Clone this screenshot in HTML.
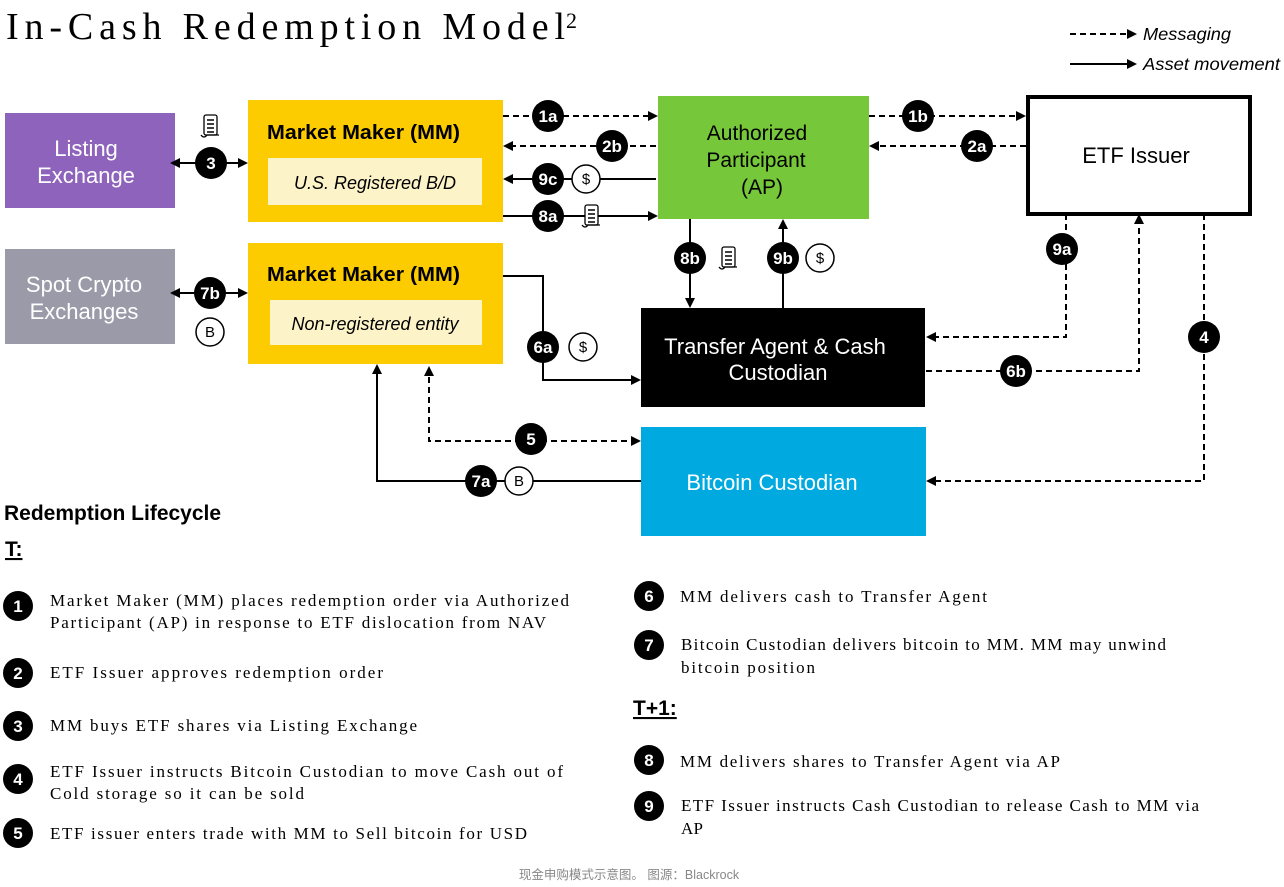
<!DOCTYPE html>
<html><head><meta charset="utf-8"><style>
html,body{margin:0;padding:0;background:#fff;}
svg{display:block;}
.b{font-family:"Liberation Sans",Arial,sans-serif;}
.s{font-family:"Liberation Serif","Times New Roman",serif;}
</style></head><body>
<svg width="1284" height="887" viewBox="0 0 1284 887" xmlns="http://www.w3.org/2000/svg">
<defs>
<marker id="a" markerWidth="10" markerHeight="10" refX="8" refY="5" orient="auto" markerUnits="userSpaceOnUse"><path d="M0,0 L10,5 L0,10 z" fill="#000"/></marker>
<marker id="as" markerWidth="10" markerHeight="10" refX="2" refY="5" orient="auto-start-reverse" markerUnits="userSpaceOnUse"><path d="M0,0 L10,5 L0,10 z" fill="#000"/></marker>
<g id="doc"><rect x="-7" y="-11" width="13" height="20" fill="#fff" stroke="#000" stroke-width="1.3" rx="2"/><line x1="-4" y1="-6" x2="3" y2="-6" stroke="#000" stroke-width="1.5"/><line x1="-4" y1="-2" x2="3" y2="-2" stroke="#000" stroke-width="1.5"/><line x1="-4" y1="2" x2="3" y2="2" stroke="#000" stroke-width="1.5"/><line x1="-4" y1="6" x2="3" y2="6" stroke="#000" stroke-width="1.5"/><path d="M-10,9 q3,4 6,0 h12" fill="none" stroke="#000" stroke-width="1.3"/></g>
</defs>
<text x="6" y="39" class="s" font-size="38" textLength="559" lengthAdjust="spacing">In-Cash Redemption Model</text>
<text x="566" y="28" class="s" font-size="22">2</text>
<!-- legend -->
<line x1="1070" y1="34" x2="1135" y2="34" stroke="#000" stroke-width="2" stroke-dasharray="6,4" marker-end="url(#a)"/>
<text x="1143" y="40" class="b" font-size="17.5" font-style="italic" textLength="88" lengthAdjust="spacingAndGlyphs">Messaging</text>
<line x1="1070" y1="64" x2="1135" y2="64" stroke="#000" stroke-width="2" marker-end="url(#a)"/>
<text x="1143" y="70" class="b" font-size="17.5" font-style="italic" textLength="137" lengthAdjust="spacingAndGlyphs">Asset movement</text>

<!-- boxes -->
<rect x="5" y="113" width="170" height="95" fill="#8e63bb"/>
<text class="b" font-size="22" fill="#fff" text-anchor="middle"><tspan x="86" y="156">Listing</tspan><tspan x="86" y="183">Exchange</tspan></text>
<rect x="248" y="100" width="255" height="122" fill="#fccc00"/>
<text x="267" y="139" class="b" font-size="20" font-weight="bold" textLength="193" lengthAdjust="spacingAndGlyphs">Market Maker (MM)</text>
<rect x="268" y="158" width="214" height="47" fill="#fdf3c8"/>
<text x="375" y="189" class="b" font-size="18" font-style="italic" text-anchor="middle">U.S. Registered B/D</text>
<rect x="658" y="96" width="211" height="123" fill="#76c73a"/>
<text class="b" font-size="21" text-anchor="middle"><tspan x="757" y="140">Authorized</tspan><tspan x="756" y="167">Participant</tspan><tspan x="762" y="194">(AP)</tspan></text>
<rect x="1028" y="97" width="222" height="117" fill="#fff" stroke="#000" stroke-width="4"/>
<text x="1136" y="163" class="b" font-size="22" text-anchor="middle">ETF Issuer</text>
<rect x="5" y="249" width="170" height="95" fill="#9b9aa9"/>
<text class="b" font-size="22" fill="#fff" text-anchor="middle"><tspan x="84" y="292">Spot Crypto</tspan><tspan x="84" y="319">Exchanges</tspan></text>
<rect x="248" y="243" width="255" height="121" fill="#fccc00"/>
<text x="267" y="281" class="b" font-size="20" font-weight="bold" textLength="193" lengthAdjust="spacingAndGlyphs">Market Maker (MM)</text>
<rect x="270" y="300" width="212" height="45" fill="#fdf3c8"/>
<text x="375" y="330" class="b" font-size="18" font-style="italic" text-anchor="middle">Non-registered entity</text>
<rect x="641" y="308" width="284" height="99" fill="#000"/>
<text class="b" font-size="22" fill="#fff" text-anchor="middle"><tspan x="775" y="354">Transfer Agent &amp; Cash</tspan><tspan x="778" y="380">Custodian</tspan></text>
<rect x="641" y="427" width="285" height="109" fill="#00a9df"/>
<text x="772" y="490" class="b" font-size="22" fill="#fff" text-anchor="middle">Bitcoin Custodian</text>

<!-- connectors -->
<g stroke="#000" stroke-width="2" fill="none">
<line x1="503" y1="116" x2="656" y2="116" stroke-dasharray="6,4" marker-end="url(#a)"/>
<line x1="656" y1="146" x2="505" y2="146" stroke-dasharray="6,4" marker-end="url(#a)"/>
<line x1="656" y1="179" x2="505" y2="179" marker-end="url(#a)"/>
<line x1="503" y1="216" x2="656" y2="216" marker-end="url(#a)"/>
<line x1="869" y1="116" x2="1024" y2="116" stroke-dasharray="6,4" marker-end="url(#a)"/>
<line x1="1026" y1="146" x2="871" y2="146" stroke-dasharray="6,4" marker-end="url(#a)"/>
<line x1="178" y1="163" x2="246" y2="163" marker-start="url(#as)" marker-end="url(#a)"/>
<line x1="178" y1="293" x2="246" y2="293" marker-start="url(#as)" marker-end="url(#a)"/>
<line x1="690" y1="219" x2="690" y2="306" marker-end="url(#a)"/>
<line x1="783" y1="308" x2="783" y2="221" marker-end="url(#a)"/>
<polyline points="503,276 543,276 543,380 639,380" marker-end="url(#a)"/>
<polyline points="1066,214 1066,337 928,337" stroke-dasharray="6,4" marker-end="url(#a)"/>
<polyline points="926,371 1139,371 1139,216" stroke-dasharray="6,4" marker-end="url(#a)"/>
<polyline points="1204,214 1204,481 928,481" stroke-dasharray="6,4" marker-end="url(#a)"/>
<polyline points="531,441 429,441 429,368" stroke-dasharray="6,4" marker-end="url(#a)"/>
<line x1="531" y1="441" x2="639" y2="441" stroke-dasharray="6,4" marker-end="url(#a)"/>
<polyline points="641,481 377,481 377,366" marker-end="url(#a)"/>
</g>
<!-- badges -->
<g class="b" font-weight="bold" font-size="17" fill="#fff" text-anchor="middle">
<g><circle cx="548" cy="116" r="16" fill="#000"/><text x="548" y="122">1a</text></g>
<g><circle cx="612" cy="146" r="16" fill="#000"/><text x="612" y="152">2b</text></g>
<g><circle cx="548" cy="179" r="16" fill="#000"/><text x="548" y="185">9c</text></g>
<g><circle cx="548" cy="216" r="16" fill="#000"/><text x="548" y="222">8a</text></g>
<g><circle cx="918" cy="116" r="16" fill="#000"/><text x="918" y="122">1b</text></g>
<g><circle cx="977" cy="146" r="16" fill="#000"/><text x="977" y="152">2a</text></g>
<g><circle cx="211" cy="163" r="16" fill="#000"/><text x="211" y="169">3</text></g>
<g><circle cx="210" cy="293" r="16" fill="#000"/><text x="210" y="299">7b</text></g>
<g><circle cx="690" cy="258" r="16" fill="#000"/><text x="690" y="264">8b</text></g>
<g><circle cx="783" cy="258" r="16" fill="#000"/><text x="783" y="264">9b</text></g>
<g><circle cx="543" cy="347" r="16" fill="#000"/><text x="543" y="353">6a</text></g>
<g><circle cx="1062" cy="249" r="16" fill="#000"/><text x="1062" y="255">9a</text></g>
<g><circle cx="1016" cy="371" r="16" fill="#000"/><text x="1016" y="377">6b</text></g>
<g><circle cx="1204" cy="337" r="16" fill="#000"/><text x="1204" y="343">4</text></g>
<g><circle cx="531" cy="439" r="16" fill="#000"/><text x="531" y="445">5</text></g>
<g><circle cx="481" cy="481" r="16" fill="#000"/><text x="481" y="487">7a</text></g>
</g>
<!-- icons -->
<g class="b" font-size="15" text-anchor="middle" fill="#000">
<g><circle cx="586" cy="179" r="14" fill="#fff" stroke="#000" stroke-width="1.5"/><text x="586" y="184">$</text></g>
<g><circle cx="820" cy="258" r="14" fill="#fff" stroke="#000" stroke-width="1.5"/><text x="820" y="263">$</text></g>
<g><circle cx="583" cy="347" r="14" fill="#fff" stroke="#000" stroke-width="1.5"/><text x="583" y="352">$</text></g>
<g><circle cx="210" cy="332" r="14" fill="#fff" stroke="#000" stroke-width="1.5"/><text x="210" y="337">B</text></g>
<g><circle cx="519" cy="481" r="14" fill="#fff" stroke="#000" stroke-width="1.5"/><text x="519" y="486">B</text></g>
</g>
<use href="#doc" x="211" y="126"/>
<use href="#doc" x="592" y="216"/>
<use href="#doc" x="729" y="258"/>

<!-- lifecycle -->
<text x="4" y="520" class="b" font-size="21" font-weight="bold">Redemption Lifecycle</text>
<text x="5" y="556" class="b" font-size="21" font-weight="bold" text-decoration="underline">T:</text>
<text x="633" y="715" class="b" font-size="21" font-weight="bold" text-decoration="underline">T+1:</text>
<g class="b" font-weight="bold" font-size="17" fill="#fff" text-anchor="middle">
<circle cx="18" cy="606" r="15" fill="#000"/><text x="18" y="612">1</text>
<circle cx="18" cy="673" r="15" fill="#000"/><text x="18" y="679">2</text>
<circle cx="18" cy="726" r="15" fill="#000"/><text x="18" y="732">3</text>
<circle cx="18" cy="779" r="15" fill="#000"/><text x="18" y="785">4</text>
<circle cx="18" cy="833" r="15" fill="#000"/><text x="18" y="839">5</text>
<circle cx="649" cy="596" r="15" fill="#000"/><text x="649" y="602">6</text>
<circle cx="649" cy="645" r="15" fill="#000"/><text x="649" y="651">7</text>
<circle cx="649" cy="760" r="15" fill="#000"/><text x="649" y="766">8</text>
<circle cx="649" cy="806" r="15" fill="#000"/><text x="649" y="812">9</text>
</g>
<g class="s" font-size="17" fill="#000" lengthAdjust="spacing">
<text x="50" y="606" textLength="519">Market Maker (MM) places redemption order via Authorized</text>
<text x="50" y="628" textLength="496">Participant (AP) in response to ETF dislocation from NAV</text>
<text x="50" y="678" textLength="333">ETF Issuer approves redemption order</text>
<text x="50" y="731" textLength="367">MM buys ETF shares via Listing Exchange</text>
<text x="50" y="777" textLength="513">ETF Issuer instructs Bitcoin Custodian to move Cash out of</text>
<text x="50" y="799" textLength="254">Cold storage so it can be sold</text>
<text x="50" y="839" textLength="477">ETF issuer enters trade with MM to Sell bitcoin for USD</text>
<text x="680" y="602" textLength="307">MM delivers cash to Transfer Agent</text>
<text x="681" y="650" textLength="485">Bitcoin Custodian delivers bitcoin to MM. MM may unwind</text>
<text x="681" y="673" textLength="134">bitcoin position</text>
<text x="680" y="767" textLength="380">MM delivers shares to Transfer Agent via AP</text>
<text x="681" y="811" textLength="518">ETF Issuer instructs Cash Custodian to release Cash to MM via</text>
<text x="681" y="834" textLength="22">AP</text>
</g>
<text x="629" y="879" font-family="'Liberation Sans','Noto Sans CJK SC',sans-serif" font-size="12.5" fill="#888" text-anchor="middle">现金申购模式示意图。 图源：Blackrock</text>
</svg>
</body></html>
